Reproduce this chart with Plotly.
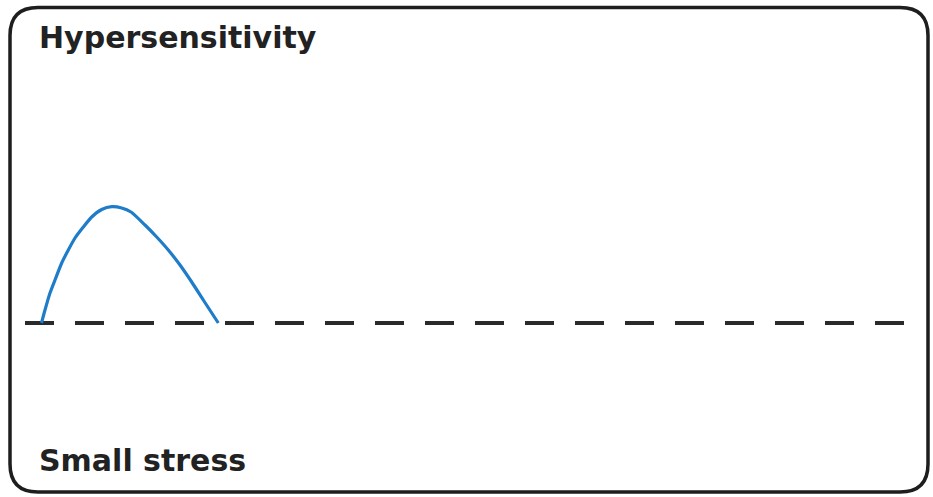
import plotly.graph_objects as go

W, H = 933, 497

# Data (x in horizontal chart units, response above baseline)
curve_x = [41.5, 45, 50, 55, 61.7, 68.3, 75, 83.3, 91.7, 101.7, 111.7, 121.7, 131,
           145, 156.7, 168.3, 180, 191.7, 203.3, 218.3]
curve_y = [0, 13, 30, 43, 60, 73, 85, 96, 106, 113.5, 116.3, 115, 111,
           98, 86, 73, 58, 41, 23, 0]
baseline_x = [25, 905]
baseline_y = [0, 0]
title_text = "Hypersensitivity"
bottom_text = "Small stress"

fig = go.Figure()
fig.add_trace(go.Scatter(x=baseline_x, y=baseline_y, mode="lines",
                         line=dict(color="#2a2a2a", width=4, dash="29px,21px"),
                         hoverinfo="skip"))
fig.add_trace(go.Scatter(x=curve_x, y=curve_y, mode="lines",
                         line=dict(color="#1f7cc9", width=3.2, shape="spline", smoothing=0.6),
                         hoverinfo="skip"))

# rounded border in paper coordinates
L, T, R, B, r = 10, 7.5, 928, 492, 28
def px(x): return x / W
def py(y): return 1 - y / H
path = (f"M {px(L+r)},{py(T)} L {px(R-r)},{py(T)} Q {px(R)},{py(T)} {px(R)},{py(T+r)} "
        f"L {px(R)},{py(B-r)} Q {px(R)},{py(B)} {px(R-r)},{py(B)} "
        f"L {px(L+r)},{py(B)} Q {px(L)},{py(B)} {px(L)},{py(B-r)} "
        f"L {px(L)},{py(T+r)} Q {px(L)},{py(T)} {px(L+r)},{py(T)} Z")
fig.add_shape(type="path", path=path, xref="paper", yref="paper",
              line=dict(color="#1e1e1e", width=3.5))

fig.add_annotation(text=f"<b>{title_text}</b>", x=px(37), y=py(37), xref="paper", yref="paper",
                   xanchor="left", yanchor="middle", showarrow=False,
                   font=dict(family="DejaVu Sans", size=30, color="#222"))
fig.add_annotation(text=f"<b>{bottom_text}</b>", x=px(37), y=py(460), xref="paper", yref="paper",
                   xanchor="left", yanchor="middle", showarrow=False,
                   font=dict(family="DejaVu Sans", size=30, color="#222"))

fig.update_layout(width=W, height=H, margin=dict(l=0, r=0, t=0, b=0),
                  paper_bgcolor="white", plot_bgcolor="white", showlegend=False,
                  xaxis=dict(range=[0, W], visible=False, fixedrange=True),
                  yaxis=dict(range=[323 - H, 323], visible=False, fixedrange=True))
fig.write_html("out.html", config={"displayModeBar": False},
               post_script="document.body.style.margin='0';document.body.style.overflow='hidden';")
